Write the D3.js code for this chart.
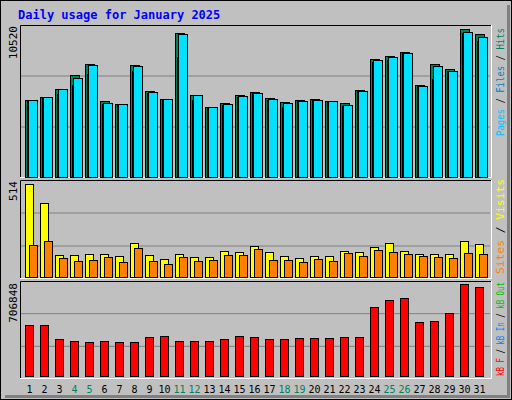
<!DOCTYPE html>
<html><head><meta charset="utf-8">
<script src="https://cdn.jsdelivr.net/npm/d3@7"></script>
<style>body{margin:0;background:#fff}svg text{font-family:"DejaVu Sans Mono",monospace}</style>
</head><body><svg id="c" width="512" height="400"></svg>
<script>
const days = d3.range(1, 32);
const weekends = [4,5,11,12,18,19,25,26];
const hits  = [5473,5686,6255,7250,8032,5402,5189,7961,6113,5544,10236,5829,4976,5260,5829,6042,5615,5331,5473,5544,5402,5260,6184,8387,8601,8885,6539,8032,7677,10520,10164];
const files = [5473,5686,6255,7037,7961,5260,5189,7890,6042,5544,10164,5829,4976,5189,5757,5971,5544,5260,5402,5473,5402,5118,6113,8316,8530,8814,6468,7890,7535,10307,9951];
const pages = [5400,5600,5900,6539,7321,5200,5150,7534,6000,5500,8530,5473,4950,5150,5700,5950,5500,4976,5380,5450,5380,5080,6080,8174,8316,8780,6440,6966,7500,10250,9667];
const visits= [514,410,123,123,128,128,117,188,123,101,128,112,112,144,139,173,139,117,107,117,117,144,139,166,188,144,128,128,128,199,182];
const sites = [177,199,107,90,96,112,85,161,90,74,112,90,96,123,123,155,96,96,85,101,90,134,117,150,139,128,117,112,107,134,128];
const kbytes= [390800,390800,282900,267500,259800,267500,259800,259800,298300,306000,267500,267500,267500,282900,306000,298300,282900,282900,290600,290600,290600,298300,298300,529500,583500,598900,413900,421600,483300,706848,683700];
const maxHits = 10520, maxVisits = 514, maxKB = 706848;

const svg = d3.select("#c");
svg.append("rect").attr("x",0.5).attr("y",0.5).attr("width",511).attr("height",399).attr("fill","#c0c0c0").attr("stroke","#000");
svg.append("rect").attr("x",507).attr("y",5).attr("width",3).attr("height",392).attr("fill","#808080");
svg.append("rect").attr("x",5).attr("y",395).attr("width",505).attr("height",3).attr("fill","#808080");
svg.append("text").attr("x",18).attr("y",19).attr("fill","#0000ff").attr("font-size",12).attr("font-weight","bold").text("Daily usage for January 2025");

const x = d3.scaleBand().domain(days).range([21,486]).paddingInner(0);
function panel(top, bottom){
  svg.append("rect").attr("x",20).attr("y",top).attr("width",471).attr("height",bottom-top).attr("fill","#c0c0c0");
  const h = bottom-top;
  [1,2].forEach(k=>svg.append("line").attr("x1",21).attr("x2",490).attr("y1",top+h*k/3).attr("y2",top+h*k/3).attr("stroke","#808080"));
  svg.append("path").attr("d",`M20.5,${bottom}V${top+0.5}H491`).attr("fill","none").attr("stroke","#000");
  svg.append("path").attr("d",`M491.5,${top}V${bottom-0.5}H20`).attr("fill","none").attr("stroke","#fff");
}
function bars(vals, yS, off, w, fill){
  svg.append("g").selectAll("rect").data(vals).join("rect")
    .attr("x",(d,i)=>x(days[i])+off+0.5).attr("width",w)
    .attr("y",d=>Math.round(yS(d))+0.5).attr("height",d=>yS.range()[0]-Math.round(yS(d)))
    .attr("fill",fill).attr("stroke","#000");
}
function leftLabel(txt, y){
  svg.append("text").attr("transform",`translate(17,${y}) rotate(-90)`).attr("text-anchor","end").attr("font-size",11).text(txt);
}
function rightLabel(parts, y, len){
  const t = svg.append("text").attr("transform",`translate(504,${y}) rotate(-90)`).attr("text-anchor","end")
    .attr("font-size",10).attr("textLength",len).attr("lengthAdjust","spacingAndGlyphs");
  parts.forEach(p=>t.append("tspan").attr("fill",p[1]).text(p[0]));
}
// Panel 1
panel(25,178);
const y1 = d3.scaleLinear().domain([0,maxHits]).range([177,29]);
bars(hits,y1,4,9,"#00805c");
bars(pages,y1,6,9,"#0040ff");
bars(files,y1,7,9,"#00e0ff");
leftLabel("10520",26);
rightLabel([["Pages","#00c0ff"],[" / ","#000"],["Files","#0080c0"],[" / ","#000"],["Hits","#00805c"]],28,108);
// Panel 2
panel(180,279);
const y2 = d3.scaleLinear().domain([0,maxVisits]).range([277,184]);
bars(visits,y2,4,8,"#ffff00");
bars(sites,y2,8,8,"#ff8000");
leftLabel("514",181);
rightLabel([["Sites","#ff8000"],[" / ","#000"],["Visits","#ffff00"]],179,95);
// Panel 3
panel(281,379);
const y3 = d3.scaleLinear().domain([0,maxKB]).range([376,284]);
bars(kbytes,y3,4,8,"#ff0000");
leftLabel("706848",283);
rightLabel([["kB F","#ff0000"],[" / ","#000"],["kB In","#0080ff"],[" / ","#000"],["kB Out","#00c000"]],282,94);
// Day labels
svg.append("g").selectAll("text").data(days).join("text")
  .attr("x",d=>x(d)+8.5).attr("y",393).attr("text-anchor","middle").attr("font-size",10)
  .attr("fill",d=>weekends.includes(d)?"#00805c":"#000").text(d=>d);
</script></body></html>
